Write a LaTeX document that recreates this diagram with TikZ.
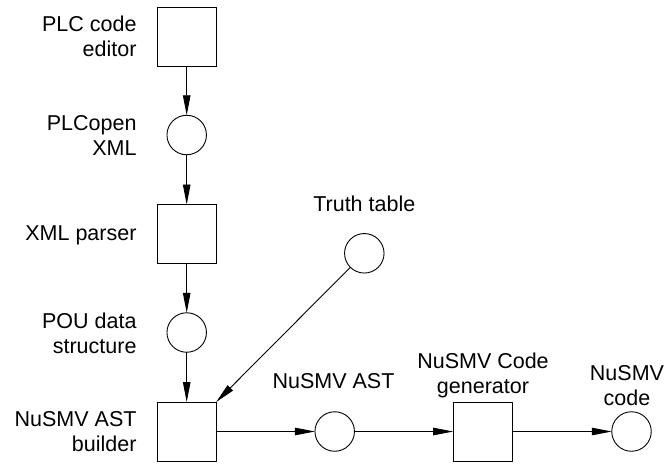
\documentclass[tikz,border=0pt]{standalone}
\usepackage{fontspec}
\setmainfont{Liberation Sans}
\usetikzlibrary{arrows.meta}
\begin{document}
\begin{tikzpicture}[x=1pt,y=-1pt,
  every node/.style={inner sep=0pt, outer sep=0pt},
  boxnode/.style={draw, line width=0.9pt, minimum width=59pt, minimum height=59pt},
  circnode/.style={draw, circle, line width=0.9pt, minimum size=39.5pt},
  lbl/.style={font=\fontsize{21.5}{25}\selectfont},
  conn/.style={line width=0.9pt, -{Triangle[length=20pt,width=7.5pt]}}]
\useasboundingbox (0,0) rectangle (668,463);
% nodes
\node[boxnode] (b1) at (186.7,36.7) {};
\node[circnode] (c1) at (186.7,135) {};
\node[boxnode] (b2) at (186.7,234) {};
\node[circnode] (c2) at (186.7,332.5) {};
\node[boxnode] (b3) at (186.7,431.5) {};
\node[circnode] (c3) at (334.7,431.5) {};
\node[boxnode] (b4) at (482.7,431.5) {};
\node[circnode] (c4) at (631.5,431.5) {};
\node[circnode] (tt) at (364.3,253.3) {};
% labels
\node[lbl, align=right, anchor=east] (l1) at (136.5,36.7) {PLC code\\editor};
\node[lbl, align=right, anchor=east] (l2) at (136.5,135) {PLCopen\\XML};
\node[lbl, anchor=base east] (l3) at (136.5,240) {XML parser};
\node[lbl, align=right, anchor=east] (l4) at (136.5,333) {POU data\\structure};
\node[lbl, align=right, anchor=east] (l5) at (136.5,431.5) {NuSMV AST\\builder};
\node[lbl, anchor=base] (l6) at (364.3,211.7) {Truth table};
\node[lbl, anchor=base] (l7) at (333.5,388) {NuSMV AST};
\node[lbl, align=center] (l8) at (483,375) {NuSMV Code\\generator};
\node[lbl, align=center] (l9) at (627,385.6) {NuSMV\\code};
% connectors
\draw[conn] (b1) -- (c1);
\draw[conn] (c1) -- (b2);
\draw[conn] (b2) -- (c2);
\draw[conn] (c2) -- (b3);
\draw[conn] (tt) -- (b3.north east);
\draw[conn] (b3) -- (c3);
\draw[conn] (c3) -- (b4);
\draw[conn] (b4) -- (c4);
\end{tikzpicture}
\end{document}
